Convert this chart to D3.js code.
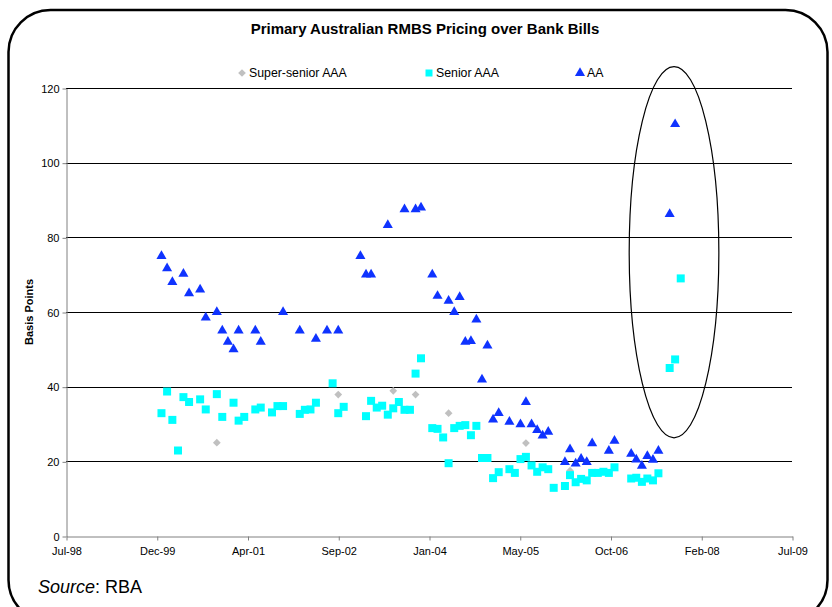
<!DOCTYPE html>
<html>
<head>
<meta charset="utf-8">
<script src="https://cdn.jsdelivr.net/npm/d3@7/dist/d3.min.js"></script>
<style>
body { margin: 0; background: #fff; }
text { font-family: Arial, "Liberation Sans", sans-serif; }
</style>
</head>
<body>
<svg width="832" height="607"></svg>
<script>
// monthly observations, basis points over bank bills
var superSenior = [
    ["2000-11", 25], ["2002-09", 37.9], ["2003-07", 38.9], ["2003-11", 37.9],
    ["2004-05", 32.9], ["2005-07", 24.9], ["2006-03", 17.5]
];

var seniorAAA = [
    ["2000-01", 32.9], ["2000-02", 38.7], ["2000-03", 31.1], ["2000-04", 22.9], ["2000-05", 37.2],
    ["2000-06", 35.9], ["2000-08", 36.6], ["2000-09", 33.9], ["2000-11", 38], ["2000-12", 31.9],
    ["2001-02", 35.7], ["2001-03", 30.9], ["2001-04", 31.9], ["2001-06", 33.9], ["2001-07", 34.4],
    ["2001-09", 33.1], ["2001-10", 34.8], ["2001-11", 34.8], ["2002-02", 32.7], ["2002-03", 33.8],
    ["2002-04", 33.9], ["2002-05", 35.7], ["2002-08", 40.9], ["2002-09", 32.9], ["2002-10", 34.6],
    ["2003-02", 32.1], ["2003-03", 36.2], ["2003-04", 34.4], ["2003-05", 34.9], ["2003-06", 32.5],
    ["2003-07", 34.2], ["2003-08", 35.9], ["2003-09", 33.8], ["2003-10", 33.8], ["2003-11", 43.5],
    ["2003-12", 47.6], ["2004-02", 28.9], ["2004-03", 28.7], ["2004-04", 26.4], ["2004-05", 19.5],
    ["2004-06", 28.9], ["2004-07", 29.5], ["2004-08", 29.7], ["2004-09", 27], ["2004-10", 29.5],
    ["2004-11", 20.9], ["2004-12", 20.9], ["2005-01", 15.5], ["2005-02", 17.1], ["2005-04", 17.9],
    ["2005-05", 16.9], ["2005-06", 20.6], ["2005-07", 21.2], ["2005-08", 18.9], ["2005-09", 17.2],
    ["2005-10", 18.4], ["2005-11", 17.9], ["2005-12", 12.9], ["2006-02", 13.4], ["2006-03", 16.3],
    ["2006-04", 14.4], ["2006-05", 15.3], ["2006-06", 14.9], ["2006-07", 16.9], ["2006-08", 16.9],
    ["2006-09", 17.2], ["2006-10", 16.9], ["2006-11", 18.4], ["2007-02", 15.4], ["2007-03", 15.6],
    ["2007-04", 14.5], ["2007-05", 15.4], ["2007-06", 14.9], ["2007-07", 16.8], ["2007-09", 45],
    ["2007-10", 47.3], ["2007-11", 69]
];

var aa = [
    ["2000-01", 75], ["2000-02", 71.7], ["2000-03", 68], ["2000-05", 70.2], ["2000-06", 65],
    ["2000-08", 66], ["2000-09", 58.5], ["2000-11", 60], ["2000-12", 55], ["2001-01", 52],
    ["2001-02", 50], ["2001-03", 55], ["2001-06", 55], ["2001-07", 52], ["2001-11", 60],
    ["2002-02", 55], ["2002-05", 52.8], ["2002-07", 55], ["2002-09", 55], ["2003-01", 75],
    ["2003-02", 70], ["2003-03", 70], ["2003-06", 83.3], ["2003-09", 87.5], ["2003-11", 87.5],
    ["2003-12", 88], ["2004-02", 70], ["2004-03", 64.3], ["2004-05", 63], ["2004-06", 60],
    ["2004-07", 64], ["2004-08", 52], ["2004-09", 52.2], ["2004-10", 58], ["2004-11", 41.9],
    ["2004-12", 51], ["2005-01", 31.2], ["2005-02", 32.9], ["2005-04", 30.6], ["2005-06", 29.9],
    ["2005-07", 35.9], ["2005-08", 29.9], ["2005-09", 28.4], ["2005-10", 26.9], ["2005-11", 27.9],
    ["2006-02", 19.8], ["2006-03", 23.2], ["2006-04", 19.4], ["2006-05", 20.7], ["2006-06", 19.8],
    ["2006-07", 24.8], ["2006-10", 22.8], ["2006-11", 25.5], ["2007-02", 22], ["2007-03", 20.5],
    ["2007-04", 18.8], ["2007-05", 21.4], ["2007-06", 20.4], ["2007-07", 22.8], ["2007-09", 86.2],
    ["2007-10", 110.3]
];

var seriesNames = ["Super-senior AAA", "Senior AAA", "AA"];
var xTickLabels = ["Jul-98", "Dec-99", "Apr-01", "Sep-02", "Jan-04", "May-05", "Oct-06", "Feb-08", "Jul-09"];
var yTicks = [0, 20, 40, 60, 80, 100, 120];

// circled area: corners of the box around the ellipse
var circleFrom = ["2007-01-21", 125.7];
var circleTo = ["2008-05-29", 26.3];

//Width and height
var w = 832;
var h = 607;
var plotLeft = 66, plotRight = 792, plotTop = 88, plotBottom = 536;

var parseMonth = d3.timeParse("%Y-%m");
var parseDay = d3.timeParse("%Y-%m-%d");

// excel date axis: 500 day major unit
var xStart = new Date(1998, 6, 24);
var xEnd = d3.timeDay.offset(xStart, 4000);

var x = d3.scaleTime()
    .domain([xStart, xEnd])
    .range([plotLeft, plotRight]);

var y = d3.scaleLinear()
    .domain([0, 120])
    .range([plotBottom, plotTop]);

var svg = d3.select("svg");

//frame
svg.append("rect")
    .attr("x", 8.5)
    .attr("y", 10)
    .attr("width", 819)
    .attr("height", 612)
    .attr("rx", 42)
    .attr("fill", "none")
    .attr("stroke", "#000")
    .attr("stroke-width", 2.5);

svg.append("text")
    .attr("x", 425)
    .attr("y", 34)
    .attr("text-anchor", "middle")
    .attr("font-size", 15)
    .attr("font-weight", "bold")
    .text("Primary Australian RMBS Pricing over Bank Bills");

// gridlines
svg.append("g")
    .selectAll("line")
    .data(yTicks.filter(d => d > 0))
    .enter()
    .append("line")
    .attr("x1", plotLeft)
    .attr("x2", plotRight)
    .attr("y1", d => Math.round(y(d)) + 0.5)
    .attr("y2", d => Math.round(y(d)) + 0.5)
    .attr("stroke", "#000")
    .attr("stroke-width", 1);

// y axis
var yAxis = d3.axisLeft(y)
    .tickValues(yTicks)
    .tickSize(4)
    .tickSizeOuter(0)
    .tickPadding(3);

var gy = svg.append("g")
    .attr("transform", "translate(" + (plotLeft + 0.5) + ",0.5)")
    .call(yAxis);
gy.select(".domain").attr("stroke", "#808080");
gy.selectAll(".tick line").attr("stroke", "#808080");
gy.selectAll("text").attr("font-size", 11).attr("font-family", "Arial, 'Liberation Sans', sans-serif");

// x axis
var xTickValues = d3.range(9).map(i => d3.timeDay.offset(xStart, i * 500));
var xAxis = d3.axisBottom(x)
    .tickValues(xTickValues)
    .tickFormat((d, i) => xTickLabels[i])
    .tickSize(4)
    .tickSizeOuter(0)
    .tickPadding(7);

var gx = svg.append("g")
    .attr("transform", "translate(0.5," + (plotBottom + 0.5) + ")")
    .call(xAxis);
gx.select(".domain").attr("stroke", "#808080");
gx.selectAll(".tick line").attr("stroke", "#808080");
gx.selectAll("text").attr("font-size", 11).attr("font-family", "Arial, 'Liberation Sans', sans-serif");

svg.append("text")
    .attr("transform", "translate(33," + ((plotTop + plotBottom) / 2) + ") rotate(-90)")
    .attr("text-anchor", "middle")
    .attr("font-size", 11)
    .attr("font-weight", "bold")
    .text("Basis Points");

// markers
var diamond = d3.symbol(d3.symbolSquare, 30);
var square = d3.symbol(d3.symbolSquare, 64);
var triangle = d3.symbol(d3.symbolTriangle, 44);

svg.append("g")
    .selectAll("path")
    .data(superSenior)
    .enter()
    .append("path")
    .attr("d", diamond)
    .attr("transform", d => "translate(" + x(parseMonth(d[0])) + "," + y(d[1]) + ") rotate(45)")
    .attr("fill", "#c0c0c0");

svg.append("g")
    .selectAll("path")
    .data(seniorAAA)
    .enter()
    .append("path")
    .attr("d", square)
    .attr("transform", d => "translate(" + x(parseMonth(d[0])) + "," + y(d[1]) + ")")
    .attr("fill", "#00ffff");

svg.append("g")
    .selectAll("path")
    .data(aa)
    .enter()
    .append("path")
    .attr("d", triangle)
    .attr("transform", d => "translate(" + x(parseMonth(d[0])) + "," + y(d[1]) + ")")
    .attr("fill", "#0f33ff");

// legend
var legendX = [242, 429, 580];
var legendShapes = [diamond, square, triangle];
var legendColors = ["#c0c0c0", "#00ffff", "#0f33ff"];
var legend = svg.append("g");
seriesNames.forEach(function (name, i) {
    legend.append("path")
        .attr("d", i == 1 ? d3.symbol(d3.symbolSquare, 49) : legendShapes[i])
        .attr("transform", "translate(" + legendX[i] + ",73)" + (i == 0 ? " rotate(45)" : ""))
        .attr("fill", legendColors[i]);
    legend.append("text")
        .attr("x", legendX[i] + 7)
        .attr("y", 77)
        .attr("font-size", 12.3)
        .text(name);
});

// ellipse round the latest issues
var ex1 = x(parseDay(circleFrom[0])), ex2 = x(parseDay(circleTo[0]));
var ey1 = y(circleFrom[1]), ey2 = y(circleTo[1]);
svg.append("ellipse")
    .attr("cx", (ex1 + ex2) / 2)
    .attr("cy", (ey1 + ey2) / 2)
    .attr("rx", (ex2 - ex1) / 2)
    .attr("ry", (ey2 - ey1) / 2)
    .attr("fill", "none")
    .attr("stroke", "#000")
    .attr("stroke-width", 1.2);

// source
var src = svg.append("text")
    .attr("x", 38)
    .attr("y", 593)
    .attr("font-size", 18);
src.append("tspan").attr("font-style", "italic").text("Source");
src.append("tspan").text(": RBA");
</script>
</body>
</html>
